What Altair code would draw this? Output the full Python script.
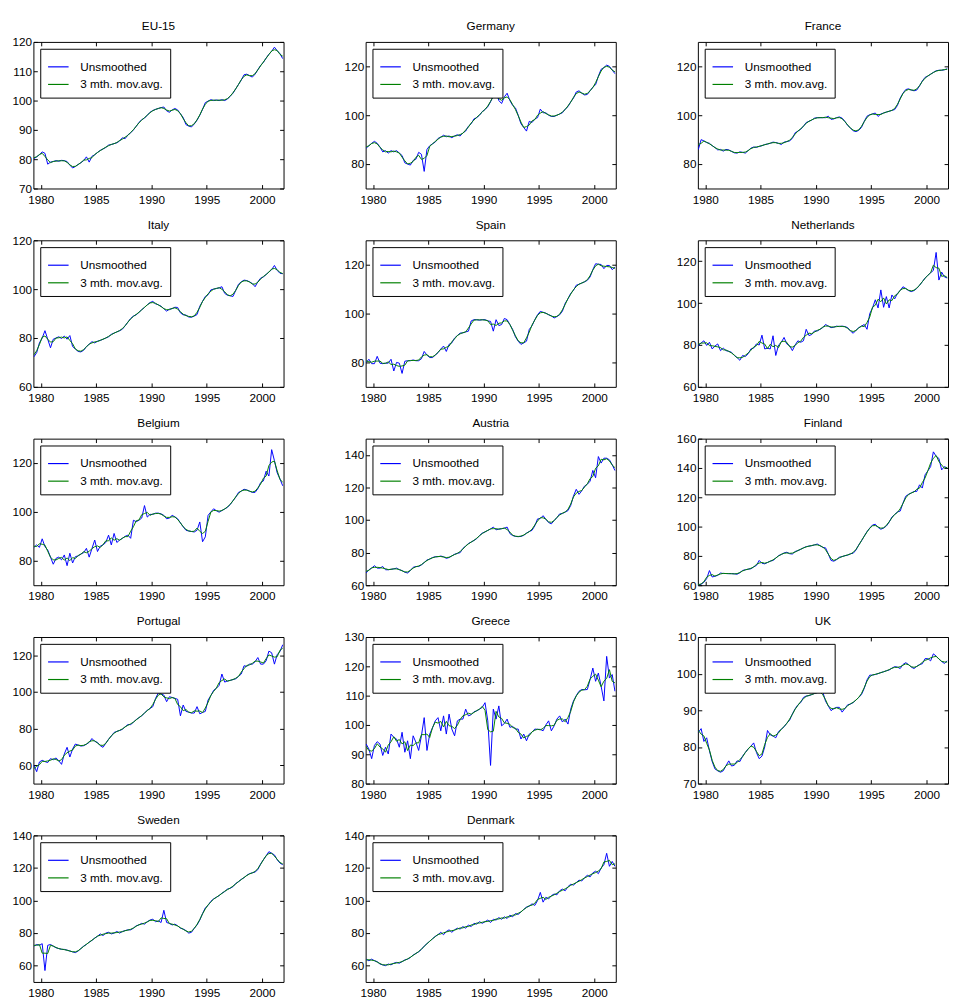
import altair as alt
import pandas as pd

FONT = "Liberation Sans, Arial, sans-serif"
FS = 12
SERIES = ["Unsmoothed", "3 mth. mov.avg."]
COLORS = ["#0000ff", "#008000"]
X_TICKS = [1980, 1985, 1990, 1995, 2000]
X_DOMAIN = [1979.33, 2001.95]
W, H = 256, 150

# quarterly observation dates: 1979.375 ... 2001.875
DATES = [1979.375 + 0.25 * i for i in range(91)]

COUNTRIES = ["EU-15", "Germany", "France", "Italy", "Spain", "Netherlands",
             "Belgium", "Austria", "Finland", "Portugal", "Greece", "UK",
             "Sweden", "Denmark"]

EU15 = [80.2, 80.8, 81.5,
        82.5, 82.0, 78.3, 79.0, 79.2, 79.5, 79.3, 79.6, 79.5, 79.2, 78.0, 77.0,
        77.5, 78.2, 78.8, 79.5, 80.8, 79.0, 81.0, 81.5, 82.3, 83.0, 83.5, 84.0,
        84.8, 85.0, 85.3, 85.6, 86.2, 87.3, 87.0, 88.3, 89.0, 90.0, 91.2, 92.5,
        93.5, 94.0, 95.0, 96.0, 96.6, 97.0, 97.3, 97.6, 97.8, 96.5, 96.0, 96.8,
        97.3, 96.8, 95.5, 94.2, 91.8, 91.3, 91.0, 92.0, 93.3, 95.0, 97.0, 99.3,
        99.8, 100.3, 100.0, 100.2, 100.0, 100.3, 100.0, 100.5, 101.5, 102.5, 104.0, 105.5,
        107.0, 108.8, 109.0, 108.5, 108.0, 109.0, 110.5, 112.0, 113.0, 114.5, 115.8, 116.8,
        118.2, 117.0, 116.0, 114.3]
GERMANY = [86.5, 87.5, 88.5,
           89.3, 88.5, 87.0, 85.0, 85.5, 84.5, 85.5, 85.0, 85.5, 84.5, 83.5, 80.5,
           80.0, 79.6, 81.5, 82.0, 84.8, 84.0, 77.0, 86.0, 87.5, 88.3, 89.0, 90.5,
           91.0, 91.8, 91.2, 91.5, 90.8, 91.5, 92.0, 91.5, 92.8, 93.5, 95.5, 96.5,
           98.5, 99.0, 100.0, 101.5, 102.3, 103.5, 105.5, 108.0, 109.5, 106.0, 104.8, 107.5,
           109.0, 106.0, 104.0, 103.0, 100.0, 96.5, 95.0, 93.5, 97.5, 97.0, 98.5, 99.0,
           102.5, 101.0, 101.0, 100.0, 99.5, 99.5, 100.0, 100.5, 101.0, 102.5, 103.5, 105.5,
           107.0, 109.5, 110.0, 109.0, 108.3, 108.5, 110.0, 111.5, 112.5, 116.0, 118.8, 119.5,
           120.5, 120.0, 118.5, 117.0]
FRANCE = [86.0, 90.0, 89.5,
          88.8, 88.5, 87.5, 86.8, 85.8, 86.0, 85.3, 86.0, 85.8, 85.2, 84.6, 84.5,
          85.0, 84.8, 84.5, 85.5, 86.5, 87.0, 86.8, 87.3, 87.5, 88.0, 88.2, 88.5,
          89.0, 88.8, 88.5, 88.0, 89.0, 89.2, 89.5, 90.5, 92.8, 93.5, 94.2, 95.5,
          97.0, 97.5, 98.0, 98.8, 99.0, 99.0, 99.0, 99.0, 99.6, 98.3, 98.5, 99.0,
          99.3, 98.8, 97.5, 95.8, 94.8, 93.6, 93.3, 93.8, 95.0, 97.5, 99.6, 100.2,
          100.5, 100.9, 99.5, 100.5, 100.9, 101.3, 101.6, 102.0, 102.3, 104.0, 107.0, 109.0,
          110.5, 110.8, 110.3, 110.0, 110.3, 112.0, 114.0, 115.5, 116.0, 116.8, 117.5, 118.2,
          118.4, 118.4, 118.6, 119.0]
ITALY = [72.3, 74.0, 78.0,
         80.0, 83.0, 79.5, 76.0, 79.5, 80.0, 80.5, 79.8, 80.8, 79.5, 81.0, 76.5,
         75.5, 74.5, 74.3, 75.0, 76.5, 77.5, 78.5, 78.0, 78.7, 79.0, 79.5, 80.0,
         80.5, 81.5, 82.0, 82.5, 83.0, 83.6, 85.0, 86.5, 88.0, 89.0, 89.5, 90.5,
         91.6, 92.5, 93.6, 94.5, 95.0, 94.0, 93.6, 93.0, 92.0, 91.0, 91.8, 92.0,
         92.6, 92.5, 90.3, 89.5, 89.4, 88.6, 88.5, 89.0, 89.6, 93.0, 95.0, 97.0,
         97.7, 99.7, 100.0, 100.3, 100.5, 101.0, 98.3, 97.5, 97.3, 97.0, 99.5, 102.0,
         103.0, 103.7, 103.5, 103.0, 102.3, 101.0, 103.0, 104.5, 105.0, 106.0, 107.0, 108.0,
         109.7, 107.7, 106.5, 106.3]
SPAIN = [80.0, 81.3, 79.5,
         79.5, 82.5, 79.7, 79.5, 79.7, 79.7, 81.3, 76.5, 80.0, 79.7, 75.5, 80.5,
         80.7, 80.7, 81.0, 80.7, 80.7, 81.5, 84.5, 83.0, 82.0, 82.0, 83.0, 84.0,
         85.5, 86.7, 84.5, 87.4, 88.0, 90.0, 91.0, 92.0, 92.1, 92.5, 92.8, 97.0,
         97.5, 97.5, 97.3, 97.5, 97.5, 97.0, 96.8, 92.8, 97.5, 95.1, 95.5, 98.0,
         97.5, 95.5, 93.5, 90.5, 88.7, 87.4, 88.0, 88.7, 93.5, 95.0, 97.5, 99.5,
         100.9, 100.5, 100.2, 99.5, 99.1, 98.2, 98.8, 99.5, 101.0, 104.2, 106.0, 108.3,
         109.5, 111.6, 112.0, 112.5, 113.0, 113.6, 115.0, 118.0, 120.4, 120.2, 120.1, 118.4,
         119.7, 119.7, 118.0, 119.0]
NETHERLANDS = [79.7, 81.0, 82.0,
               79.8, 81.3, 78.1, 79.5, 80.5, 77.3, 78.5, 77.3, 77.0, 76.5, 75.0, 74.0,
               72.7, 75.0, 74.5, 75.8, 78.1, 78.5, 80.5, 80.0, 84.7, 78.1, 78.5, 78.1,
               84.4, 75.0, 80.0, 81.3, 83.6, 80.5, 79.7, 77.3, 80.0, 82.0, 81.3, 82.0,
               87.5, 84.5, 85.0, 86.7, 86.7, 87.5, 88.3, 89.8, 89.0, 88.3, 88.5, 89.0,
               88.8, 89.0, 88.8, 88.3, 86.7, 85.6, 87.0, 88.3, 89.0, 89.8, 87.5, 95.0,
               97.7, 101.6, 97.7, 106.3, 98.0, 103.1, 97.7, 103.9, 102.0, 104.7, 106.0, 107.8,
               107.0, 106.0, 105.5, 106.0, 107.0, 108.5, 110.2, 112.0, 113.3, 114.5, 115.6, 124.2,
               111.0, 114.8, 112.5, 112.0]
BELGIUM = [85.5, 86.5, 85.5,
           89.0, 85.8, 84.4, 81.5, 78.6, 81.0, 81.5, 80.4, 82.4, 78.0, 83.1, 79.1,
           81.7, 82.0, 82.8, 83.3, 85.1, 81.5, 85.0, 88.5, 83.8, 86.0, 86.5, 87.5,
           90.5, 86.5, 91.2, 87.5, 88.5, 89.2, 90.0, 90.5, 89.2, 96.6, 96.0, 96.6,
           97.5, 102.6, 97.9, 99.0, 99.0, 99.5, 99.5, 99.2, 98.6, 97.2, 97.5, 98.6,
           98.0, 97.2, 95.5, 93.9, 92.5, 92.2, 92.0, 91.8, 92.5, 95.9, 87.8, 89.8,
           98.6, 100.0, 101.3, 100.5, 99.9, 100.6, 101.2, 101.9, 103.0, 104.6, 106.0, 108.0,
           108.5, 109.3, 109.0, 108.5, 108.0, 108.0, 109.5, 112.0, 112.7, 116.7, 114.7, 125.5,
           121.0, 116.0, 113.5, 110.7]
AUSTRIA = [67.5, 69.5, 70.5,
           72.0, 70.5, 70.5, 71.5, 69.5, 69.5, 69.8, 70.0, 70.5, 69.5, 69.0, 68.0,
           67.5, 69.0, 71.0, 71.5, 71.5, 72.5, 73.9, 75.5, 76.0, 77.0, 77.5, 77.5,
           77.9, 77.5, 76.5, 77.0, 78.0, 79.0, 79.6, 80.0, 82.6, 84.0, 85.6, 86.5,
           87.5, 88.6, 90.5, 92.0, 92.7, 93.7, 94.5, 95.7, 94.0, 94.5, 94.7, 95.0,
           95.7, 91.7, 90.5, 90.0, 89.8, 90.0, 90.6, 92.0, 93.0, 93.7, 96.5, 100.7,
           101.0, 102.7, 100.5, 98.5, 97.7, 99.7, 101.5, 103.8, 104.0, 105.0, 105.8, 109.0,
           114.8, 118.9, 115.8, 118.0, 120.9, 122.0, 123.9, 130.5, 126.0, 139.0, 135.0, 138.0,
           138.0, 137.0, 134.0, 130.4]
FINLAND = [60.0, 60.7, 62.0,
           64.5, 70.0, 65.6, 66.2, 66.7, 68.3, 68.0, 68.0, 67.9, 67.9, 67.8, 67.5,
           68.5, 70.1, 70.5, 71.0, 71.2, 72.5, 73.5, 76.9, 75.0, 74.6, 75.5, 76.5,
           76.9, 78.5, 80.2, 81.0, 82.0, 82.5, 81.5, 81.3, 83.0, 83.6, 84.5, 85.5,
           86.3, 86.7, 87.0, 87.5, 88.1, 87.0, 85.8, 85.5, 81.3, 76.9, 76.4, 77.5,
           79.1, 79.5, 80.2, 80.5, 81.5, 81.8, 84.0, 87.5, 90.3, 93.5, 96.6, 99.0,
           101.1, 101.6, 99.5, 98.2, 99.0, 100.4, 103.0, 106.5, 108.3, 110.0, 110.6, 116.0,
           120.7, 122.0, 122.9, 124.0, 124.0, 128.5, 126.3, 135.3, 138.0, 140.9, 151.0, 148.0,
           146.5, 138.7, 140.9, 140.0]
PORTUGAL = [60.0, 56.5, 61.8,
            62.7, 62.0, 61.5, 63.6, 63.0, 64.0, 62.5, 60.5, 66.2, 69.8, 64.5, 68.9,
            71.6, 71.0, 70.5, 70.7, 71.5, 72.5, 74.6, 73.0, 72.5, 70.7, 69.8, 72.0,
            74.2, 76.0, 77.9, 78.5, 79.0, 79.6, 81.0, 82.2, 82.2, 83.5, 84.9, 86.0,
            87.0, 88.5, 90.0, 91.0, 92.0, 96.5, 99.5, 99.0, 98.3, 94.7, 97.4, 97.0,
            96.5, 96.0, 87.0, 92.9, 89.4, 89.0, 88.5, 88.5, 92.0, 88.1, 88.8, 89.4,
            95.6, 98.0, 100.9, 102.0, 103.6, 109.8, 105.4, 106.0, 106.3, 106.8, 107.2, 108.5,
            109.8, 114.3, 114.0, 115.2, 115.2, 116.5, 118.8, 115.2, 115.2, 117.0, 122.3, 121.4,
            115.2, 120.5, 122.0, 125.8]
GREECE = [93.5, 91.8, 88.5,
          93.0, 94.3, 93.5, 89.6, 92.4, 90.1, 96.9, 95.8, 95.2, 92.4, 97.5, 90.7,
          94.6, 88.5, 96.3, 94.1, 91.3, 96.3, 102.5, 91.3, 96.9, 99.0, 101.4, 102.5,
          98.0, 103.1, 96.9, 103.7, 98.6, 96.3, 101.4, 102.0, 102.0, 105.4, 103.1, 103.5,
          104.5, 104.8, 105.4, 106.0, 107.6, 101.4, 86.2, 105.4, 102.0, 106.5, 99.7, 100.5,
          102.0, 99.2, 99.5, 98.6, 98.6, 95.2, 96.9, 94.6, 96.9, 97.5, 98.6, 98.5,
          98.5, 98.0, 100.0, 101.4, 98.0, 99.7, 102.0, 103.1, 101.0, 102.0, 100.3, 105.4,
          108.2, 110.0, 111.5, 112.1, 112.0, 112.1, 115.5, 119.4, 114.9, 117.7, 113.2, 108.2,
          123.4, 116.0, 117.2, 111.5]
UK = [84.0, 85.0, 81.5,
      82.5, 79.0, 76.0, 74.0, 73.5, 73.1, 73.5, 74.9, 76.2, 74.8, 75.0, 76.2,
      76.0, 77.5, 78.5, 79.5, 80.2, 81.1, 78.5, 76.8, 77.5, 80.0, 84.5, 83.3,
      83.0, 82.5, 84.2, 84.8, 85.5, 86.5, 87.3, 89.0, 90.4, 91.5, 92.1, 93.5,
      93.9, 94.0, 94.3, 94.6, 94.8, 95.2, 95.0, 92.5, 91.2, 89.9, 90.5, 90.8,
      90.8, 89.5, 90.5, 91.5, 91.7, 92.1, 92.8, 93.5, 94.3, 96.0, 98.3, 99.6,
      99.6, 99.8, 100.0, 100.3, 100.5, 100.8, 101.0, 101.5, 101.9, 101.8, 101.4, 102.5,
      103.0, 102.5, 101.8, 101.4, 102.0, 102.5, 102.7, 104.1, 104.1, 103.5, 105.4, 104.8,
      104.0, 103.3, 102.8, 103.5]
SWEDEN = [72.0, 73.0, 72.5,
          73.5, 57.0, 72.5, 73.0, 72.0, 71.0, 70.5, 70.0, 70.0, 69.5, 69.0, 68.5,
          68.0, 69.0, 70.5, 72.0, 73.0, 74.5, 75.5, 77.0, 78.0, 79.5, 78.5, 80.0,
          80.5, 79.5, 80.0, 81.0, 80.0, 81.0, 81.5, 82.0, 82.0, 83.0, 84.5, 85.0,
          86.0, 85.5, 87.0, 88.0, 88.5, 87.0, 87.5, 86.5, 94.0, 86.5, 86.0, 85.0,
          85.5, 84.5, 83.0, 82.5, 81.5, 80.0, 80.5, 83.0, 85.0, 88.0, 92.0, 95.5,
          97.0, 99.5, 101.0, 102.0, 103.0, 104.5, 105.5, 107.0, 107.5, 108.5, 110.5, 111.5,
          113.0, 114.0, 115.5, 116.5, 117.0, 117.5, 119.0, 122.5, 125.0, 127.5, 130.0, 129.0,
          128.0, 125.0, 123.0, 122.0]
DENMARK = [64.0, 63.0, 64.0,
           63.0, 62.5, 61.0, 60.5, 60.0, 61.0, 60.5, 61.5, 62.0, 61.5, 62.5, 63.5,
           64.0, 65.0, 66.5, 67.5, 68.5, 70.0, 72.0, 73.5, 75.0, 76.5, 78.0, 79.0,
           80.5, 79.0, 81.0, 82.0, 80.5, 82.0, 83.0, 82.5, 84.0, 83.0, 85.0, 84.0,
           86.0, 85.5, 87.0, 86.0, 87.0, 88.0, 86.5, 88.5, 88.0, 89.5, 88.5, 90.0,
           89.0, 91.0, 90.0, 92.0, 91.5, 93.0, 94.5, 96.0, 96.5, 98.0, 97.0, 100.0,
           105.0, 99.0, 102.0, 101.0, 103.0, 104.0, 103.5, 106.0, 107.0, 106.0, 108.5, 110.0,
           109.5, 111.0, 112.5, 112.0, 114.0, 115.5, 114.5, 117.0, 118.0, 116.5, 120.0, 122.0,
           129.0, 121.0, 124.0, 121.0]

VALUES = {"EU-15": EU15, "Germany": GERMANY, "France": FRANCE, "Italy": ITALY,
          "Spain": SPAIN, "Netherlands": NETHERLANDS, "Belgium": BELGIUM,
          "Austria": AUSTRIA, "Finland": FINLAND, "Portugal": PORTUGAL,
          "Greece": GREECE, "UK": UK, "Sweden": SWEDEN, "Denmark": DENMARK}

Y_DOMAINS = {"EU-15": [70, 120], "Germany": [70, 130], "France": [70, 130],
             "Italy": [60, 120], "Spain": [70, 130], "Netherlands": [60, 130],
             "Belgium": [70, 130], "Austria": [60, 150], "Finland": [60, 160],
             "Portugal": [50, 130], "Greece": [80, 130], "UK": [70, 110],
             "Sweden": [50, 140], "Denmark": [50, 140]}
Y_TICKS = {"EU-15": [70, 80, 90, 100, 110, 120], "Germany": [80, 100, 120],
           "France": [80, 100, 120], "Italy": [60, 80, 100, 120],
           "Spain": [80, 100, 120], "Netherlands": [60, 80, 100, 120],
           "Belgium": [80, 100, 120], "Austria": [60, 80, 100, 120, 140],
           "Finland": [60, 80, 100, 120, 140, 160], "Portugal": [60, 80, 100, 120],
           "Greece": [80, 90, 100, 110, 120, 130], "UK": [70, 80, 90, 100, 110],
           "Sweden": [60, 80, 100, 120, 140], "Denmark": [60, 80, 100, 120, 140]}


def panel(name):
    df = pd.DataFrame({"t": DATES, "v": VALUES[name]})
    xs = alt.Scale(domain=X_DOMAIN, nice=False, zero=False)
    ys = alt.Scale(domain=Y_DOMAINS[name], nice=False, zero=False)
    color = alt.Color(
        "series:N",
        scale=alt.Scale(domain=SERIES, range=COLORS),
        legend=alt.Legend(
            orient="top-left", offset=7, title=None,
            labelFont=FONT, labelFontSize=FS, labelColor="black",
            symbolType="stroke", symbolSize=441, symbolStrokeWidth=1.2,
            strokeColor="black", fillColor="white", padding=7,
            labelOffset=11, rowPadding=0,
        ),
    )
    base = alt.Chart(df)
    raw = base.transform_calculate(series="'Unsmoothed'").mark_line(
        strokeWidth=1, clip=True
    ).encode(
        x=alt.X("t:Q", scale=xs, axis=alt.Axis(values=X_TICKS, format="d", title=None, orient="bottom")),
        y=alt.Y("v:Q", scale=ys, axis=alt.Axis(values=Y_TICKS[name], title=None, orient="left")),
        color=color,
    )
    ma = base.transform_window(
        m="mean(v)", frame=[-1, 1], sort=[alt.SortField("t")]
    ).transform_calculate(series="'3 mth. mov.avg.'").mark_line(
        strokeWidth=1, clip=True
    ).encode(
        x=alt.X("t:Q", scale=xs, axis=alt.Axis(values=X_TICKS, labels=False, title=None, orient="top")),
        y=alt.Y("m:Q", scale=ys, axis=alt.Axis(values=Y_TICKS[name], labels=False, title=None, orient="right")),
        color=color,
    )
    title = alt.Chart(pd.DataFrame({"name": [name]})).mark_text(
        font=FONT, fontSize=FS, color="black", align="center", baseline="alphabetic"
    ).encode(text="name:N", x=alt.value(W / 2), y=alt.value(-12))
    return alt.layer(raw, ma, title).resolve_axis(x="independent", y="independent").properties(
        width=W, height=H,
    )


chart = alt.concat(
    *[panel(c) for c in COUNTRIES], columns=3, spacing={"row": 12, "column": 60}
).resolve_scale(color="independent").resolve_legend(color="independent").properties(
    padding={"left": 3, "top": 0, "right": 0, "bottom": 0}
).configure_view(stroke="black", strokeWidth=1).configure_axis(
    domain=False, grid=False, tickSize=4, offset=-4, tickColor="black", tickWidth=1,
    labelFont=FONT, labelFontSize=FS, labelColor="black", labelFlush=False,
    labelOverlap=False,
).configure_axisX(labelPadding=6).configure_axisY(labelPadding=2)

chart.save("out.html", embed_options={"renderer": "svg", "actions": False})
